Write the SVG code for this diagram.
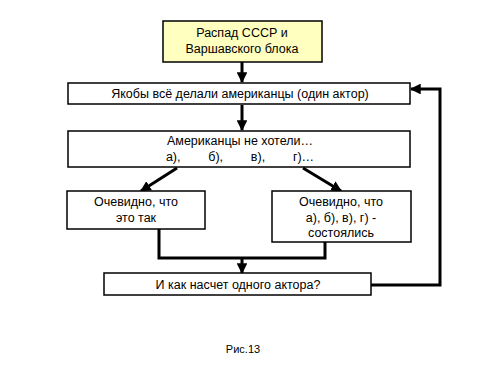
<svg xmlns="http://www.w3.org/2000/svg" width="500" height="375" viewBox="0 0 500 375">
<style>
.box{fill:#fff;stroke:#000;stroke-width:1.5}
.top{fill:#FFFFC0}
text{font-family:"Liberation Sans",Arial,sans-serif;font-size:12.5px;fill:#000;text-anchor:middle}
.c{fill:none;stroke:#000;stroke-width:3}
</style>
<defs>
<marker id="ah" viewBox="0 0 10 10" refX="9" refY="5" markerWidth="3.6" markerHeight="3.6" orient="auto" markerUnits="strokeWidth">
<path d="M0,0 L10,5 L0,10 Z" fill="#000"/>
</marker>
</defs>
<rect width="500" height="375" fill="#fff"/>
<g id="connectors">
<line class="c" x1="242" y1="62" x2="242" y2="82" marker-end="url(#ah)"/>
<line class="c" x1="242" y1="105" x2="242" y2="130" marker-end="url(#ah)"/>
<line class="c" x1="177" y1="168" x2="141" y2="191" marker-end="url(#ah)"/>
<line class="c" x1="303" y1="168" x2="341" y2="191" marker-end="url(#ah)"/>
<polyline class="c" points="159,229 159,258 325,258 325,242"/>
<line class="c" x1="242" y1="258" x2="242" y2="273" marker-end="url(#ah)"/>
<polyline class="c" points="371,285 440,285 440,89 411,89" marker-end="url(#ah)"/>
</g>
<g id="n1">
<rect class="box top" x="163" y="21" width="159" height="41"/>
<text x="242" y="37">Распад СССР и</text>
<text x="242" y="53">Варшавского блока</text>
</g>
<g id="n2">
<rect class="box" x="68" y="83" width="342" height="21"/>
<text x="240" y="98">Якобы всё делали американцы (один актор)</text>
</g>
<g id="n3">
<rect class="box" x="68" y="131" width="342" height="36"/>
<text x="240" y="145">Американцы не хотели…</text>
<text x="240" y="161" xml:space="preserve">а),        б),        в),        г)…</text>
</g>
<g id="n4">
<rect class="box" x="67" y="191" width="138" height="38"/>
<text x="136" y="206">Очевидно, что</text>
<text x="136" y="222">это так</text>
</g>
<g id="n5">
<rect class="box" x="272" y="191" width="139" height="51"/>
<text x="341" y="206">Очевидно, что</text>
<text x="341" y="222">а), б), в), г) -</text>
<text x="341" y="237">состоялись</text>
</g>
<g id="n6">
<rect class="box" x="104" y="273" width="267" height="22"/>
<text x="238" y="289">И как насчет одного актора?</text>
</g>
<text x="243" y="353" style="font-size:11px">Рис.13</text>
</svg>
